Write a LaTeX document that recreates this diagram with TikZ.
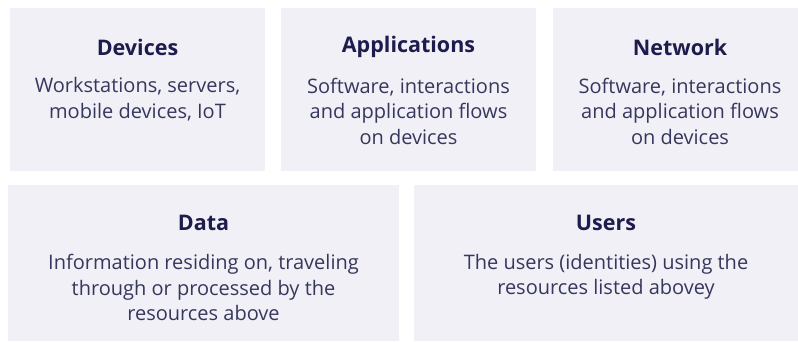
\documentclass[tikz,border=0pt]{standalone}
\usepackage{fontspec}
\setmainfont{Open Sans}
\definecolor{boxfill}{HTML}{F1F0F7}
\definecolor{titlecol}{HTML}{1E1C4C}
\definecolor{bodycol}{HTML}{36375C}
\begin{document}
\begin{tikzpicture}[x=1pt,y=-1pt,
  panel/.style={fill=boxfill,draw=none},
  ttl/.style={font=\fontsize{21.5}{25}\selectfont\bfseries,text=titlecol,anchor=center,inner sep=0pt},
  bodytext/.style={font=\fontsize{20}{25.5}\selectfont,text=bodycol,align=center,anchor=north,inner sep=0pt}]
\useasboundingbox (0,0) rectangle (798,341);
\fill[white] (0,0) rectangle (798,341);
% panels
\path[panel] (10,8) rectangle (265,171);
\path[panel] (281,8) rectangle (536,171);
\path[panel] (553,8) rectangle (798,171);
\path[panel] (8,185) rectangle (399,341);
\path[panel] (414,185) rectangle (798,341);
% titles
\node[ttl] (t1) at (137.5,47) {Devices};
\node[ttl] (t2) at (408.5,47) {Applications};
\node[ttl] (t3) at (680,47) {Network};
\node[ttl] (t4) at (203.5,223) {Data};
\node[ttl] (t5) at (606,223) {Users};
% bodies
\node[bodytext] (b1) at (137.5,77.5) {Workstations, servers,\\mobile devices, IoT};
\node[bodytext] (b2) at (408.5,77.5) {Software, interactions\\and application flows\\on devices};
\node[bodytext] (b3) at (680,77.5) {Software, interactions\\and application flows\\on devices};
\node[bodytext] (b4) at (203.5,254) {Information residing on, traveling\\through or processed by the\\resources above};
\node[bodytext] (b5) at (606,254) {The users (identities) using the\\resources listed abovey};
\end{tikzpicture}
\end{document}
